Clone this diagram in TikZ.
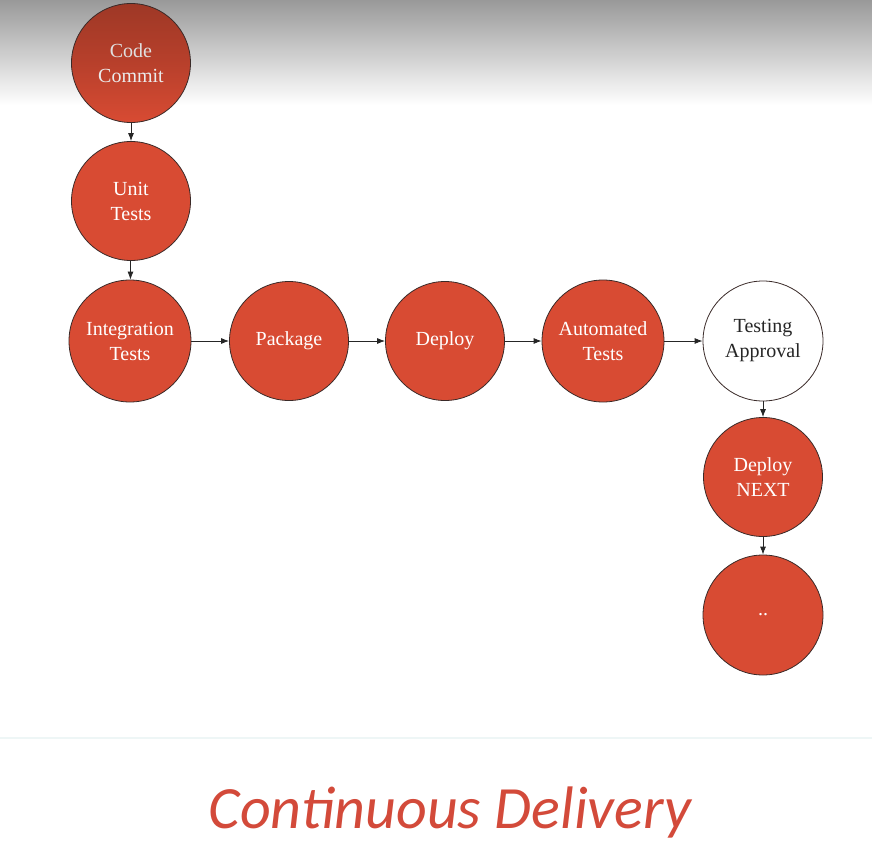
\documentclass[tikz,border=0pt]{standalone}
\usepackage{fontspec}
\newfontfamily\nodefont{Liberation Serif}
\newfontfamily\titlefont{Carlito}
\usetikzlibrary{arrows.meta}
\definecolor{stepred}{HTML}{D84B33}
\definecolor{topred}{HTML}{9E3826}
\definecolor{titlered}{HTML}{D34A3A}
\definecolor{edgegray}{HTML}{3A2A28}
\tikzset{
  stepnode/.style={circle, draw=edgegray, line width=0.8pt, fill=stepred, minimum size=119pt, inner sep=0pt, text=white, font=\nodefont\fontsize{20}{25}\selectfont, align=center},
  whitenode/.style={stepnode, fill=white, text=black!85},
  conn/.style={draw=black!85, line width=0.8pt, -{Latex[length=8pt,width=6pt]}}
}
\begin{document}
\begin{tikzpicture}[x=1pt,y=-1pt]
\useasboundingbox (0,0) rectangle (872,867);
\fill[white] (0,0) rectangle (872,867);
\shade[top color=black!40, bottom color=white] (0,0) rectangle (872,105);
\node[stepnode, fill=none, top color=topred, bottom color=stepred, middle color=stepred!85!black, shading angle=0] (cc) at (131,63) {\textcolor{white!88!black}{Code}\\\textcolor{white!92!black}{Commit}};
\node[stepnode] (ut) at (131,201) {Unit\\Tests};
\node[stepnode, minimum size=122pt] (it) at (130,341) {Integration\\Tests};
\node[stepnode] (pk) at (289,341) {Package};
\node[stepnode] (dp) at (445,341) {Deploy};
\node[stepnode, minimum size=122pt] (at) at (603,341) {Automated\\Tests};
\node[whitenode, minimum size=120pt] (ta) at (763,341) {Testing\\Approval};
\node[stepnode] (dn) at (763,477) {Deploy\\NEXT};
\node[stepnode, minimum size=120pt] (dd) at (763,615) {..};
\draw[conn] (cc) -- (ut);
\draw[conn] (ut) -- (it);
\draw[conn] (it) -- (pk);
\draw[conn] (pk) -- (dp);
\draw[conn] (dp) -- (at);
\draw[conn] (at) -- (ta);
\draw[conn] (ta) -- (dn);
\draw[conn] (dn) -- (dd);
\draw[draw={rgb,255:red,238;green,246;blue,246}, line width=1.5pt] (0,738) -- (872,738);
\node[font=\titlefont\itshape\fontsize{60}{70}\selectfont, text=titlered] (title) at (450,812) {Continuous Delivery};
\end{tikzpicture}
\end{document}
